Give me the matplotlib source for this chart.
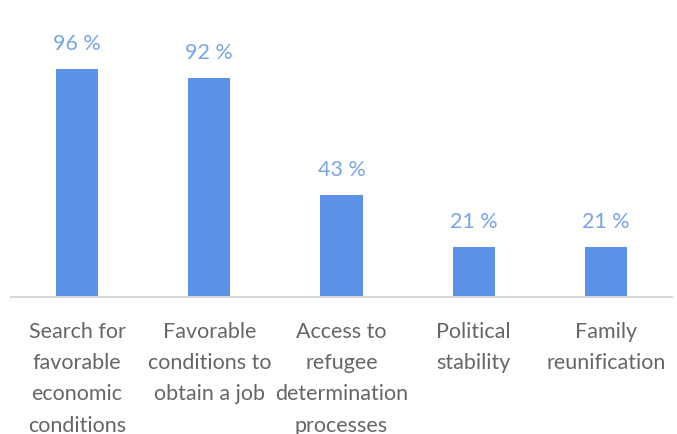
import matplotlib.pyplot as plt

# reasons and share of respondents (%)
categories = ["Search for\nfavorable\neconomic\nconditions",
              "Favorable\nconditions to\nobtain a job",
              "Access to\nrefugee\ndetermination\nprocesses",
              "Political\nstability",
              "Family\nreunification"]
values = [96, 92, 43, 21, 21]
value_labels = ["96 %", "92 %", "43 %", "21 %", "21 %"]

bar_color = "#5B92E5"
text_gray = "#666666"

plt.rcParams['font.family'] = ['Lato', 'DejaVu Sans']

fig = plt.figure(figsize=(6.77, 4.34), dpi=100)
ax = fig.add_axes([11 / 677, 137 / 434, 661 / 677, 297 / 434])

x = range(len(values))
bars = ax.bar(x, values, width=0.32, color=bar_color, zorder=2)

for xi, v, lab in zip(x, values, value_labels):
    ax.annotate(lab, (xi, v), xytext=(0, 11), textcoords='offset points',
                ha='center', va='bottom', fontsize=15.5, color="#77A4EA")

ax.set_xlim(-0.5, len(values) - 0.5)
ax.set_ylim(0, 125)
ax.set_yticks([])
ax.set_xticks(list(x))
ax.set_xticklabels(categories, fontsize=15.5, color=text_gray, linespacing=1.7)
ax.tick_params(axis='x', length=0, pad=18)

for side in ['top', 'left', 'right']:
    ax.spines[side].set_visible(False)
ax.spines['bottom'].set_color('#D9D9D9')
ax.spines['bottom'].set_linewidth(1.5)

fig.savefig("out.png", dpi=100)
